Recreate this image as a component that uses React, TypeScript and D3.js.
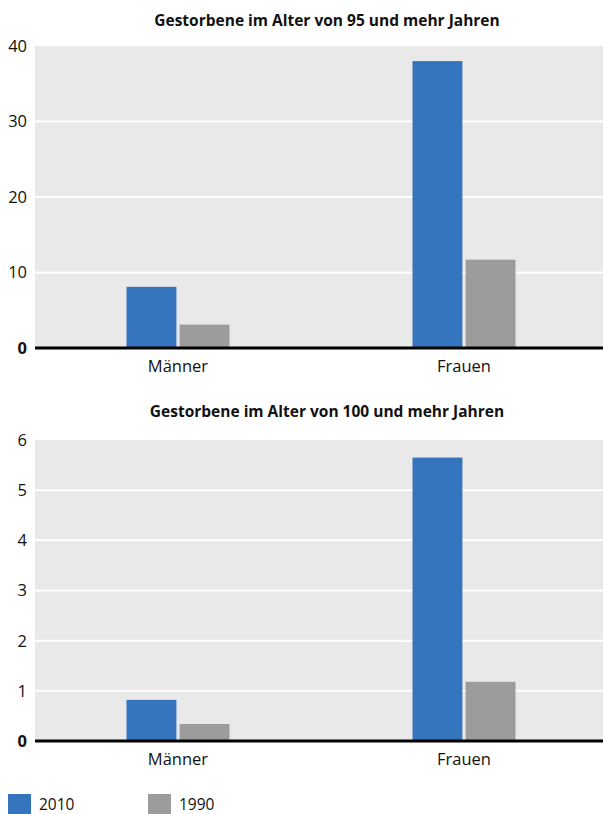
import React from "react";
import * as d3 from "d3";

const categories = ["Männer", "Frauen"];
const seriesNames = ["2010", "1990"];
const colors = ["#3575bd", "#9c9c9c"];

const titleTop = "Gestorbene im Alter von 95 und mehr Jahren";
const values95_2010 = [8.1, 38.0];
const values95_1990 = [3.1, 11.7];
const ticks95 = [0, 10, 20, 30, 40];

const titleBottom = "Gestorbene im Alter von 100 und mehr Jahren";
const values100_2010 = [0.82, 5.65];
const values100_1990 = [0.34, 1.18];
const ticks100 = [0, 1, 2, 3, 4, 5, 6];

const FONT = "'Open Sans', 'Noto Sans', sans-serif";

type PanelProps = {
  title: string;
  titleY: number;
  top: number;
  bottom: number;
  max: number;
  ticks: number[];
  series: number[][];
};

function Panel({ title, titleY, top, bottom, max, ticks, series }: PanelProps) {
  const left = 35;
  const right = 607;
  const y = d3.scaleLinear().domain([0, max]).range([bottom, top]);
  const x = d3.scaleBand<string>().domain(categories).range([left, right]);
  const groupW = 103;
  return (
    <g>
      <text
        x={327}
        y={titleY}
        textAnchor="middle"
        fontFamily={FONT}
        fontWeight="bold"
        fontSize={15.5}
        fill="#111"
      >
        {title}
      </text>
      <rect x={left} y={top} width={603 - left} height={bottom - top} fill="#e9e9e9" />
      {ticks
        .filter((t) => t !== 0 && t !== max)
        .map((t) => (
          <line key={t} x1={left} x2={603} y1={y(t)} y2={y(t)} stroke="#fff" strokeWidth={2} />
        ))}
      {ticks.map((t) => (
        <text
          key={t}
          x={27}
          y={y(t)}
          dy="0.36em"
          textAnchor="end"
          fontFamily={FONT}
          fontSize={16.5}
          fontWeight={t === 0 ? "bold" : "normal"}
          fill="#111"
        >
          {t}
        </text>
      ))}
      {categories.map((c, ci) => {
        const center = (x(c) as number) + x.bandwidth() / 2;
        const inner = d3
          .scaleBand<string>()
          .domain(seriesNames)
          .range([center - groupW / 2, center + groupW / 2])
          .paddingInner(0.06);
        return (
          <g key={c}>
            {seriesNames.map((s, si) => (
              <rect
                key={s}
                x={inner(s)}
                y={y(series[si][ci])}
                width={inner.bandwidth()}
                height={bottom - y(series[si][ci])}
                fill={colors[si]}
              />
            ))}
            <text
              x={center}
              y={bottom + 24}
              textAnchor="middle"
              fontFamily={FONT}
              fontSize={16.5}
              fill="#111"
            >
              {c}
            </text>
          </g>
        );
      })}
      <line x1={left} x2={603} y1={bottom} y2={bottom} stroke="#000" strokeWidth={3} />
    </g>
  );
}

export default function App() {
  return (
    <svg
      width={603}
      height={814}
      style={{ position: "absolute", left: 0, top: 0, display: "block", background: "#fff" }}
    >
      <Panel
        title={titleTop}
        titleY={26}
        top={46}
        bottom={348}
        max={40}
        ticks={ticks95}
        series={[values95_2010, values95_1990]}
      />
      <Panel
        title={titleBottom}
        titleY={417}
        top={440}
        bottom={741}
        max={6}
        ticks={ticks100}
        series={[values100_2010, values100_1990]}
      />
      {seriesNames.map((s, i) => (
        <g key={s} transform={`translate(${8 + i * 140},794)`}>
          <rect x={0} y={0} width={23} height={20} fill={colors[i]} />
          <text x={31} y={15.5} fontFamily={FONT} fontSize={15.5} fill="#111">
            {s}
          </text>
        </g>
      ))}
    </svg>
  );
}
